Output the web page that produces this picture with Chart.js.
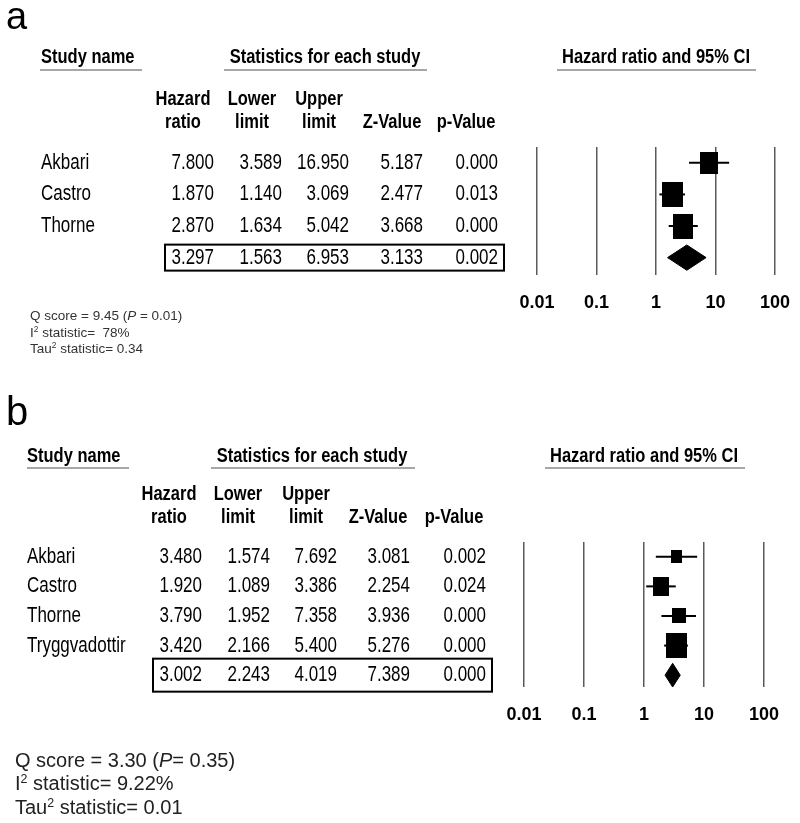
<!DOCTYPE html>
<html>
<head>
<meta charset="utf-8">
<script src="https://cdn.jsdelivr.net/npm/chart.js@4.4.1/dist/chart.umd.min.js"></script>
<style>
html, body { margin: 0; padding: 0; background: #fff; }
#wrap { position: relative; width: 800px; height: 823px; }
canvas { position: absolute; left: 0; }
</style>
</head>
<body>
<div id="wrap">
  <canvas id="panelA" width="800" height="380" style="top:0"></canvas>
  <canvas id="panelB" width="800" height="443" style="top:380px"></canvas>
</div>
<script>
// ---- panel a ----
const studiesA = ['Akbari', 'Castro', 'Thorne'];
const hrA = [7.800, 1.870, 2.870];
const lowerA = [3.589, 1.140, 1.634];
const upperA = [16.950, 3.069, 5.042];
const zA = [5.187, 2.477, 3.668];
const pA = [0.000, 0.013, 0.000];
const pooledA = [3.297, 1.563, 6.953, 3.133, 0.002]; // hr, lower, upper, z, p
const statsA = ['9.45', ' = 0.01', ' 78%', '0.34'];

// ---- panel b ----
const studiesB = ['Akbari', 'Castro', 'Thorne', 'Tryggvadottir'];
const hrB = [3.480, 1.920, 3.790, 3.420];
const lowerB = [1.574, 1.089, 1.952, 2.166];
const upperB = [7.692, 3.386, 7.358, 5.400];
const zB = [3.081, 2.254, 3.936, 5.276];
const pB = [0.002, 0.024, 0.000, 0.000];
const pooledB = [3.002, 2.243, 4.019, 7.389, 0.000];
const statsB = ['3.30', '= 0.35', '9.22%', '0.01'];

// shared labels
const colHeadTop = ['Hazard', 'Lower', 'Upper', '', ''];
const colHeadBottom = ['ratio', 'limit', 'limit', 'Z-Value', 'p-Value'];
const xTickValues = [0.01, 0.1, 1, 10, 100];
const xTickLabels = ['0.01', '0.1', '1', '10', '100'];

// box sizes [w, h] in px (study weight markers)
const boxA = [[18, 22], [21, 25], [20, 25]];
const boxB = [[11, 13], [16, 19], [14, 15], [21, 25]];

const FAM = '"Liberation Sans", Arial, sans-serif';
const HEAD = `bold 16.5px ${FAM}`;
const BODY = `17px ${FAM}`;

// the source type is tall and narrow, so stretch it a bit vertically
function txt(ctx, s, x, y, font, align, sy = 1.2) {
    ctx.save();
    ctx.font = font;
    ctx.fillStyle = '#000';
    ctx.textAlign = align;
    ctx.textBaseline = 'middle';
    ctx.translate(x, y);
    ctx.scale(1, sy);
    ctx.fillText(s, 0, 0);
    ctx.restore();
}

function rich(ctx, parts, x, y, size, color) {
    let cx = x;
    ctx.save();
    ctx.fillStyle = color;
    ctx.textBaseline = 'alphabetic';
    ctx.textAlign = 'left';
    for (const p of parts) {
        const [s, kind] = typeof p === 'string' ? [p, ''] : p;
        const fs = kind === 'sup' ? size * 0.62 : size;
        ctx.font = `${kind === 'i' ? 'italic ' : ''}${fs}px ${FAM}`;
        ctx.fillText(s, cx, kind === 'sup' ? y - size * 0.36 : y);
        cx += ctx.measureText(s).width;
    }
    ctx.restore();
}

function hline(ctx, x0, x1, y, color, w) {
    ctx.save();
    ctx.strokeStyle = color;
    ctx.lineWidth = w;
    ctx.beginPath();
    ctx.moveTo(x0, y);
    ctx.lineTo(x1, y);
    ctx.stroke();
    ctx.restore();
}

function makeBox(w, h) {
    const c = document.createElement('canvas');
    c.width = w;
    c.height = h;
    const g = c.getContext('2d');
    g.fillStyle = '#000';
    g.fillRect(0, 0, w, h);
    return c;
}

function drawTable(chart, T) {
    const ctx = chart.ctx;
    const ys = chart.scales.y;

    ctx.save();
    ctx.fillStyle = '#000';
    ctx.font = `${T.letterSize}px ${FAM}`;
    ctx.textBaseline = 'alphabetic';
    ctx.fillText(T.letter, 6, T.letterY);
    ctx.restore();

    txt(ctx, 'Study name', T.nameX, T.headY, HEAD, 'left');
    txt(ctx, 'Statistics for each study', T.statC, T.headY, HEAD, 'center');
    txt(ctx, 'Hazard ratio and 95% CI', T.plotC, T.headY, HEAD, 'center');
    hline(ctx, T.studyLine[0], T.studyLine[1], T.lineY, '#8a8a8a', 1.5);
    hline(ctx, T.statLine[0], T.statLine[1], T.lineY, '#8a8a8a', 1.5);
    hline(ctx, T.plotLine[0], T.plotLine[1], T.lineY, '#8a8a8a', 1.5);

    colHeadBottom.forEach((b, j) => {
        if (colHeadTop[j]) txt(ctx, colHeadTop[j], T.colC[j], T.h1Y, HEAD, 'center');
        txt(ctx, b, T.colC[j], T.h2Y, HEAD, 'center');
    });

    T.names.forEach((nm, i) => {
        const y = ys.getPixelForValue(i);
        txt(ctx, nm, T.nameX, y, BODY, 'left', 1.27);
        T.cols.forEach((col, j) => txt(ctx, col[i].toFixed(3), T.colR[j], y, BODY, 'right', 1.27));
    });

    const yp = ys.getPixelForValue(T.names.length);
    T.pooled.forEach((v, j) => txt(ctx, v.toFixed(3), T.colR[j], yp, BODY, 'right', 1.27));
    ctx.save();
    ctx.strokeStyle = '#000';
    ctx.lineWidth = 2;
    ctx.strokeRect(T.box[0], yp - T.boxH / 2, T.box[1] - T.box[0], T.boxH);
    ctx.restore();

    const [q, qp, i2, tau] = T.stats;
    const fs = T.statsSize;
    rich(ctx, [`Q score = ${q} (`, ['P', 'i'], `${qp})`], T.statsX, T.statsY[0], fs, T.statsColor);
    rich(ctx, ['I', ['2', 'sup'], ` statistic= ${i2}`], T.statsX, T.statsY[1], fs, T.statsColor);
    rich(ctx, ['Tau', ['2', 'sup'], ` statistic= ${tau}`], T.statsX, T.statsY[2], fs, T.statsColor);
}

function forest(id, T, L) {
    const n = T.names.length;
    const datasets = [];
    T.names.forEach((nm, i) => {
        datasets.push({
            data: [{x: T.lower[i], y: i}, {x: T.upper[i], y: i}],
            borderColor: '#000',
            borderWidth: 2,
            pointRadius: 0,
            fill: false,
            order: 2
        });
    });
    datasets.push({
        data: T.hr.map((v, i) => ({x: v, y: i})),
        showLine: false,
        pointStyle: T.boxes.map(([w, h]) => makeBox(w, h)),
        pointRadius: T.boxes.map(([w, h]) => h / 2),
        order: 1
    });
    const h = L.diamondHalf;
    const [pe, plo, phi] = T.pooled;
    datasets.push({
        data: [{x: plo, y: n}, {x: pe, y: n - h}, {x: phi, y: n}, {x: pe, y: n + h}, {x: plo, y: n}],
        borderColor: '#000',
        borderWidth: 1,
        backgroundColor: '#000',
        fill: 'shape',
        pointRadius: 0,
        tension: 0,
        order: 1
    });

    const H = document.getElementById(id).height;
    return new Chart(document.getElementById(id).getContext('2d'), {
        type: 'line',
        data: {datasets},
        options: {
            responsive: false,
            animation: false,
            events: [],
            layout: {
                padding: {left: L.left, right: 800 - L.right, top: L.top, bottom: H - L.bottom - 40}
            },
            plugins: {legend: {display: false}, tooltip: {enabled: false}},
            scales: {
                x: {
                    type: 'logarithmic',
                    min: 0.01,
                    max: 100,
                    afterBuildTicks: s => { s.ticks = xTickValues.map(v => ({value: v, major: true})); },
                    afterFit: s => {
                        s.height = 40;
                        s.paddingLeft = 0;
                        s.paddingRight = 0;
                    },
                    grid: {color: '#5a5a5a', lineWidth: 1.5, drawTicks: false},
                    border: {display: false},
                    ticks: {
                        padding: 17,
                        color: '#000',
                        autoSkip: false,
                        maxRotation: 0,
                        font: {family: FAM, size: 18, weight: 'bold'},
                        callback: (v, i) => xTickLabels[i]
                    }
                },
                y: {type: 'linear', reverse: true, min: -0.5, max: L.yMax, display: false}
            }
        },
        plugins: [{id: 'table_' + id, afterDraw: chart => drawTable(chart, T)}]
    });
}

forest('panelA', {
    names: studiesA, hr: hrA, lower: lowerA, upper: upperA,
    cols: [hrA, lowerA, upperA, zA, pA], pooled: pooledA, stats: statsA, boxes: boxA,
    letter: 'a', letterSize: 38, letterY: 29,
    headY: 58, lineY: 70, nameX: 41,
    studyLine: [40, 142], statC: 325, statLine: [224, 427], plotC: 656, plotLine: [557, 756],
    h1Y: 100, h2Y: 123,
    colC: [183, 252, 319, 392, 466], colR: [214, 282, 349, 423, 498],
    box: [165, 504], boxH: 26,
    statsX: 30, statsY: [320, 337, 353], statsSize: 13.5, statsColor: '#333'
}, {left: 537, right: 775, top: 147, bottom: 275, yMax: 3.55, diamondHalf: 0.4});

forest('panelB', {
    names: studiesB, hr: hrB, lower: lowerB, upper: upperB,
    cols: [hrB, lowerB, upperB, zB, pB], pooled: pooledB, stats: statsB, boxes: boxB,
    letter: 'b', letterSize: 40, letterY: 45,
    headY: 77, lineY: 88, nameX: 27,
    studyLine: [27, 129], statC: 312, statLine: [211, 415], plotC: 644, plotLine: [545, 745],
    h1Y: 115, h2Y: 138,
    colC: [169, 238, 306, 378, 454], colR: [202, 270, 337, 410, 486],
    box: [153, 492], boxH: 33,
    statsX: 15, statsY: [387, 410, 434], statsSize: 20, statsColor: '#222'
}, {left: 524, right: 764, top: 162, bottom: 307, yMax: 4.4, diamondHalf: 0.4});
</script>
</body>
</html>
